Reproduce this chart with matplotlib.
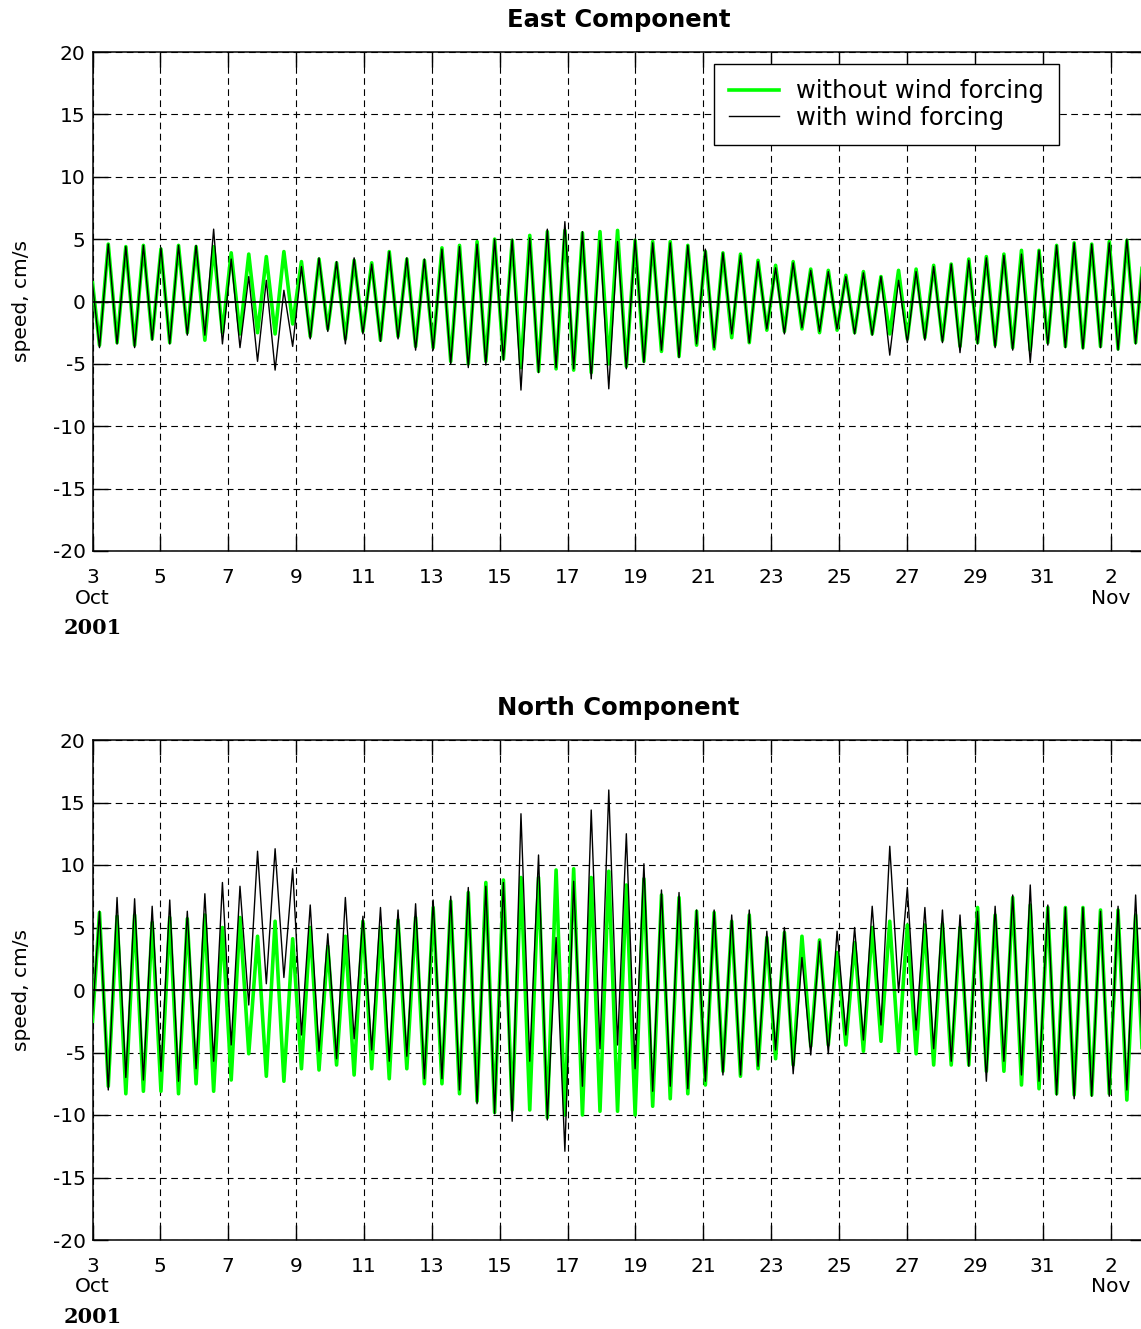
import numpy as np
import matplotlib.pyplot as plt

plt.rcParams['font.family'] = ['DejaVu Sans']
plt.rcParams['axes.unicode_minus'] = False

# time axis: days since 2001-10-03 00:00, extrema every half M2 period
period = 12.42 / 24.0
t_first = 0.206

# East component (troughs first, then peaks), cm/s
east_without_troughs = [
    -3.5, -3.3, -3.5, -3.0, -3.3, -2.5, -3.1, -2.5, -2.6, -2.5,
    -2.6, -1.8, -2.8, -2.2, -3.0, -2.4, -3.1, -2.8, -3.6, -3.7,
    -4.8, -5.0, -4.8, -4.6, -5.3, -5.6, -5.4, -5.5, -5.7, -5.0,
    -5.2, -4.8, -4.0, -4.4, -3.5, -3.8, -2.9, -3.3, -2.3, -2.4,
    -2.2, -2.5, -2.3, -2.5, -2.6, -2.6, -3.0, -2.9, -3.1, -3.6,
    -3.3, -3.5, -3.7, -3.9, -3.3, -3.6, -3.7, -3.6, -3.8, -3.3]
east_without_peaks = [
    4.6, 4.4, 4.5, 4.2, 4.5, 4.4, 4.4, 3.9, 3.8, 3.6,
    4.0, 3.2, 3.4, 3.1, 3.3, 3.1, 4.0, 3.4, 3.3, 4.3,
    4.5, 4.8, 5.0, 4.9, 5.3, 5.6, 5.7, 5.5, 5.6, 5.7,
    4.9, 4.8, 4.8, 4.5, 4.0, 3.9, 3.8, 3.3, 2.9, 3.2,
    2.6, 2.5, 2.1, 2.4, 2.0, 2.5, 2.6, 2.9, 3.0, 3.4,
    3.6, 3.8, 4.1, 4.1, 4.5, 4.7, 4.6, 4.8, 4.9, 4.9]
east_with_troughs = [
    -3.7, -3.4, -3.7, -3.1, -3.4, -2.7, -2.7, -3.4, -3.7, -4.8,
    -5.5, -3.6, -3.0, -2.4, -3.4, -2.6, -3.2, -3.0, -3.9, -3.9,
    -5.0, -5.3, -5.1, -4.7, -7.1, -5.7, -5.3, -5.4, -6.2, -7.0,
    -5.4, -4.9, -3.9, -4.5, -3.4, -3.7, -2.6, -3.3, -2.2, -2.6,
    -2.1, -2.4, -2.2, -2.6, -2.7, -4.3, -3.3, -3.1, -3.3, -4.1,
    -3.4, -3.7, -3.9, -4.9, -3.5, -3.7, -3.8, -3.7, -3.9, -3.4]
east_with_peaks = [
    4.6, 4.4, 4.5, 4.3, 4.5, 4.5, 5.8, 3.4, 2.0, 1.7,
    0.9, 2.8, 3.5, 3.2, 3.5, 3.0, 4.0, 3.5, 3.4, 4.2,
    4.4, 4.6, 5.0, 5.0, 5.1, 5.8, 6.4, 5.6, 4.9, 4.8,
    5.0, 4.7, 4.7, 4.5, 4.2, 3.9, 3.7, 3.2, 2.7, 3.1,
    2.5, 2.4, 2.0, 2.3, 2.0, 1.7, 2.4, 2.8, 3.0, 3.3,
    3.5, 3.7, 3.8, 4.1, 4.5, 4.7, 4.6, 4.7, 5.0, 4.9]
east_start = [1.5, 1.4]   # without, with

# North component (peaks first, then troughs), cm/s
north_without_peaks = [
    6.2, 5.9, 6.0, 5.4, 5.8, 5.7, 6.0, 5.0, 5.8, 4.3,
    5.5, 4.1, 5.0, 3.5, 4.3, 5.5, 5.0, 5.6, 5.8, 6.6,
    7.1, 7.8, 8.6, 8.8, 9.0, 9.0, 9.6, 9.7, 9.0, 9.5,
    8.4, 8.9, 7.6, 7.4, 6.3, 6.2, 5.5, 6.0, 4.2, 4.6,
    4.3, 4.0, 3.0, 3.8, 5.0, 5.5, 5.2, 5.2, 5.3, 5.0,
    6.6, 6.0, 7.4, 6.8, 6.6, 6.6, 6.6, 6.4, 6.4, 6.0]
north_without_troughs = [
    -7.7, -8.3, -8.1, -8.1, -8.3, -7.5, -8.1, -7.2, -5.1, -6.9,
    -7.3, -6.3, -6.4, -6.0, -6.8, -6.3, -7.1, -6.3, -7.5, -7.5,
    -8.3, -8.9, -9.8, -9.6, -9.6, -10.2, -10.0, -10.0, -9.7, -9.7,
    -10.0, -9.3, -8.7, -8.3, -7.6, -6.5, -6.9, -6.3, -5.5, -6.0,
    -4.5, -4.4, -4.4, -4.9, -4.1, -4.9, -5.1, -6.0, -6.0, -6.0,
    -6.5, -6.5, -7.6, -7.9, -8.3, -8.4, -8.4, -8.3, -8.8, -8.6]
north_with_peaks = [
    6.3, 7.4, 7.3, 6.7, 7.2, 6.3, 7.7, 8.6, 8.3, 11.1,
    11.3, 9.7, 6.8, 4.5, 7.4, 5.9, 6.6, 6.4, 6.9, 7.2,
    7.5, 8.2, 8.3, 8.6, 14.1, 10.8, 4.2, 8.7, 14.4, 16.0,
    12.5, 10.1, 8.0, 7.8, 6.4, 6.4, 6.0, 6.4, 4.7, 5.0,
    2.6, 3.9, 4.7, 5.0, 6.7, 11.5, 8.2, 6.6, 6.4, 6.0,
    6.3, 6.7, 7.6, 8.4, 6.8, 6.6, 6.6, 6.3, 6.7, 7.6]
north_with_troughs = [
    -8.0, -7.0, -7.2, -6.5, -7.3, -6.3, -5.7, -4.4, -1.2, 0.5,
    1.0, -3.6, -4.9, -5.5, -3.9, -4.8, -5.7, -5.3, -7.1, -7.1,
    -8.0, -9.1, -9.9, -10.5, -5.7, -10.4, -12.9, -7.7, -4.7, -4.4,
    -6.3, -8.1, -7.7, -7.9, -7.3, -6.8, -6.8, -6.1, -4.8, -6.7,
    -5.2, -5.1, -3.6, -4.0, -2.8, -0.2, -3.2, -4.7, -5.7, -6.1,
    -7.3, -5.7, -6.8, -7.3, -8.4, -8.7, -8.5, -8.5, -8.0, -8.4]
north_start = [-2.5, -2.0]

day_ticks = np.arange(0, 31, 2)
day_labels = ['3', '5', '7', '9', '11', '13', '15', '17', '19', '21',
              '23', '25', '27', '29', '31', '2']


def series(first, second, start):
    vals = np.empty(len(first) + len(second))
    vals[0::2] = first
    vals[1::2] = second
    t = t_first + 0.5 * period * np.arange(len(vals))
    return np.r_[0.0, t], np.r_[start, vals]


W, H = 1141, 1329
fig = plt.figure(figsize=(W / 100, H / 100), dpi=100)
ax1 = fig.add_axes([92.5 / W, 1 - 551 / H, 1052 / W, 499 / H])
ax2 = fig.add_axes([92.5 / W, 1 - 1240 / H, 1052 / W, 500 / H])

panels = [
    (ax1, 'East Component',
     series(east_without_troughs, east_without_peaks, east_start[0]),
     series(east_with_troughs, east_with_peaks, east_start[1])),
    (ax2, 'North Component',
     series(north_without_peaks, north_without_troughs, north_start[0]),
     series(north_with_peaks, north_with_troughs, north_start[1])),
]

for ax, title, (t0, v0), (t1, v1) in panels:
    ax.plot(t0, v0, color='#00ff00', lw=2.6, label='without wind forcing',
            zorder=3)
    ax.plot(t1, v1, color='black', lw=1.0, label='with wind forcing',
            zorder=4)
    ax.axhline(0, color='black', lw=1.3, zorder=5)
    ax.set_xlim(0, 31)
    ax.set_ylim(-20, 20)
    ax.set_xticks(day_ticks)
    ax.set_xticklabels(day_labels)
    ax.set_yticks(np.arange(-20, 21, 5))
    ax.grid(True, color='black', ls=(0, (6, 4)), lw=0.8)
    ax.tick_params(direction='in', length=11, width=1.0, top=True,
                   right=True, labelsize=14.5, pad=5)
    ax.tick_params(axis='x', pad=12)
    for sp in ax.spines.values():
        sp.set_linewidth(1.1)
    ax.set_ylabel('speed, cm/s', fontsize=14.5)
    ax.yaxis.set_label_coords(-0.058, 0.5)
    ax.set_title(title, fontsize=17.5, fontweight='bold', pad=18)
    # month and year under the first and last tick
    ax.annotate('Oct', xy=(0, 0), xycoords=('data', 'axes fraction'),
                xytext=(0, -47 * 0.72), textcoords='offset points',
                ha='center', va='center', fontsize=14.5)
    ax.annotate('Nov', xy=(30, 0), xycoords=('data', 'axes fraction'),
                xytext=(0, -47 * 0.72), textcoords='offset points',
                ha='center', va='center', fontsize=14.5)
    ax.annotate('2001', xy=(0, 0), xycoords=('data', 'axes fraction'),
                xytext=(0, -77 * 0.72), textcoords='offset points',
                ha='center', va='center', fontsize=15,
                family='DejaVu Serif', fontweight='bold')

leg = ax1.legend(loc='upper right', bbox_to_anchor=(1059 / W, 1 - 64 / H),
                 bbox_transform=fig.transFigure, borderaxespad=0,
                 fontsize=17.5, handlelength=2.05, handletextpad=0.7,
                 borderpad=0.62, labelspacing=0.12, fancybox=False,
                 framealpha=1)
leg.get_frame().set_edgecolor('black')
leg.get_frame().set_linewidth(1.0)

fig.savefig('out.png', dpi=100)
